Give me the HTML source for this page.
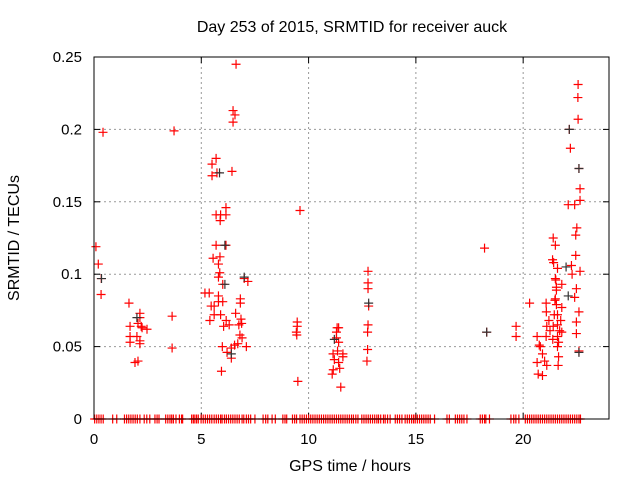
<!DOCTYPE html>
<html><head><meta charset="utf-8"><style>
html,body{margin:0;padding:0;background:#fff}
svg{display:block;font-family:"Liberation Sans",sans-serif}
</style></head><body>
<svg id="chart" width="640" height="480" viewBox="0 0 640 480">
<rect x="0" y="0" width="640" height="480" fill="#fff"/>
<text x="352" y="32" font-size="16" text-anchor="middle">Day 253 of 2015, SRMTID for receiver auck</text>
<text x="350" y="471" font-size="16" text-anchor="middle">GPS time / hours</text>
<text transform="translate(19,238) rotate(-90)" font-size="16" text-anchor="middle">SRMTID / TECUs</text>
<g id="grid"></g>
<g id="ticks"></g>
<g id="redpts"></g>
<g id="blackpts"></g>
<rect x="94" y="57" width="515" height="362" fill="none" stroke="#000" stroke-width="1"/>
</svg>
<script>
const xTicks = [0, 5, 10, 15, 20];
const xTickLabels = ["0", "5", "10", "15", "20"];
const yTicks = [0, 0.05, 0.1, 0.15, 0.2, 0.25];
const yTickLabels = ["0", "0.05", "0.1", "0.15", "0.2", "0.25"];
const redHours = [0.09,0.2,0.34,0.33,0.42,3.73,1.63,1.68,1.68,1.68,1.91,2.05,2.14,2.14,2.05,2.24,2.47,2.0,2.14,2.14,2.2,3.64,3.64,
6.62,6.48,6.57,6.48,5.69,5.5,5.73,5.5,6.43,6.15,5.69,5.9,6.15,5.88,9.6,5.69,6.15,5.55,5.87,5.8,5.86,5.8,7.0,7.17,6.0,5.17,5.37,5.8,5.8,6.0,6.82,6.82,5.46,5.6,5.6,5.9,5.4,6.16,6.04,6.3,6.6,6.85,6.88,6.75,6.8,6.9,6.7,6.55,7.1,5.98,6.2,6.4,6.4,5.94,
9.47,9.47,9.43,9.45,9.5,
11.33,11.3,11.4,11.3,11.4,11.14,11.35,11.6,11.2,11.4,11.45,11.15,11.1,11.5,11.6,
12.77,12.77,12.77,12.8,12.77,12.75,12.75,12.72,
18.2,18.3,19.67,19.67,
20.3,20.65,20.75,20.8,20.9,20.65,20.7,20.9,21.1,21.0,21.07,21.08,21.2,21.1,21.25,21.07,
21.4,21.5,21.37,21.42,21.6,21.5,21.52,21.8,21.55,21.55,21.5,21.48,21.55,21.8,21.45,21.6,21.75,21.4,21.6,21.7,21.6,21.8,21.38,21.65,21.6,21.65,21.63,
22.56,22.55,22.56,22.15,22.2,22.6,22.65,22.65,22.1,22.4,22.5,22.45,22.45,22.25,22.28,22.65,22.48,22.4,22.6,22.48,22.48,22.6];
const redValues = [0.119,0.107,0.097,0.086,0.198,0.199,0.080,0.064,0.057,0.053,0.039,0.040,0.073,0.070,0.066,0.063,0.062,0.057,0.054,0.052,0.064,0.071,0.049,
0.245,0.213,0.210,0.205,0.180,0.176,0.170,0.168,0.171,0.146,0.141,0.141,0.141,0.137,0.144,0.120,0.120,0.111,0.112,0.107,0.101,0.098,0.097,0.095,0.093,0.087,0.087,0.085,0.081,0.081,0.083,0.080,0.078,0.078,0.072,0.072,0.068,0.068,0.064,0.065,0.073,0.069,0.066,0.065,0.058,0.056,0.052,0.051,0.050,0.050,0.046,0.049,0.042,0.033,
0.067,0.064,0.060,0.058,0.026,
0.063,0.060,0.063,0.056,0.053,0.045,0.047,0.045,0.041,0.039,0.035,0.034,0.031,0.022,0.043,
0.102,0.094,0.090,0.078,0.065,0.060,0.048,0.040,
0.118,0.060,0.064,0.057,
0.080,0.057,0.051,0.050,0.045,0.039,0.031,0.030,0.037,0.040,0.080,0.074,0.068,0.064,0.061,0.057,
0.125,0.120,0.110,0.108,0.104,0.097,0.096,0.093,0.091,0.089,0.083,0.082,0.079,0.077,0.072,0.072,0.068,0.064,0.065,0.061,0.057,0.060,0.055,0.053,0.050,0.043,0.037,
0.231,0.222,0.207,0.200,0.187,0.173,0.159,0.151,0.148,0.148,0.132,0.127,0.113,0.106,0.100,0.102,0.090,0.084,0.074,0.067,0.059,0.047];
const blackHours = [0.35,5.85,6.1,6.4,11.2,12.8,18.3,22.15,22.6,22.0,22.1,22.6,7.0,2.0,6.1];
const blackValues = [0.097,0.170,0.120,0.045,0.055,0.080,0.060,0.200,0.173,0.105,0.085,0.046,0.098,0.070,0.093];
const zeroHours = [0.03,0.13,0.23,0.33,0.43,0.87,1.06,1.42,1.52,1.62,1.72,1.82,1.92,2.02,2.14,2.34,2.46,2.6,2.84,2.94,3.03,3.34,3.44,3.54,3.62,3.7,3.82,3.98,4.08,4.13,4.55,4.63,4.7,4.78,4.86,
4.99,5.09,5.19,5.29,5.39,5.49,5.6,5.7,5.8,5.9,5.97,6.08,6.17,6.27,6.37,6.47,6.57,6.67,6.77,6.9,6.98,7.1,7.2,7.3,7.5,7.88,8.0,8.1,8.3,8.45,8.8,8.9,8.98,9.25,9.35,9.44,
9.6,9.7,9.8,9.9,10.0,10.1,10.2,10.3,10.4,10.5,10.6,10.7,10.8,10.9,11.0,11.1,11.2,11.3,11.4,11.5,11.6,11.7,11.8,11.9,12.0,12.09,12.2,12.3,12.48,12.58,12.68,12.78,12.88,12.98,13.08,13.18,13.26,13.36,13.49,13.57,13.68,13.8,
14.04,14.14,14.24,14.35,14.5,14.6,14.7,14.8,14.89,14.97,15.07,15.17,15.27,15.37,15.47,15.57,15.67,15.87,16.45,16.56,16.84,16.94,17.04,17.14,17.24,17.38,
18.0,18.1,18.2,18.26,18.43,19.43,19.56,19.66,19.8,
20.1,20.2,20.3,20.4,20.5,20.6,20.7,20.8,20.9,21.0,21.1,21.2,21.3,21.4,21.5,21.6,21.7,21.8,21.9,22.0,22.1,22.2,22.3,22.4,22.5,22.6,22.67];

const NS = "http://www.w3.org/2000/svg";
const X0 = 94, X1 = 609, Y0 = 419, Y1 = 57;
function xScale(h){ return X0 + h * (X1 - X0) / 24; }
function yScale(v){ return Y0 - v * (Y0 - Y1) / 0.25; }

const grid = document.getElementById('grid');
const ticks = document.getElementById('ticks');
const svg = document.getElementById('chart');
function mk(tag, attrs, parent){ const e = document.createElementNS(NS, tag); for (const k in attrs) e.setAttribute(k, attrs[k]); parent.appendChild(e); return e; }

xTicks.forEach((t, i) => {
  const x = xScale(t);
  if (t > 0) {
    const g = mk('line', {x1:x, y1:Y1, x2:x, y2:Y0, stroke:'#999', 'stroke-dasharray':'2,3'}, grid);
    
    
  }
  mk('line', {x1:x, y1:Y0, x2:x, y2:Y0-6, stroke:'#000'}, ticks);
  mk('line', {x1:x, y1:Y1, x2:x, y2:Y1+6, stroke:'#000'}, ticks);
  const lab = mk('text', {x:x, y:444, 'font-size':15, 'text-anchor':'middle'}, svg);
  lab.textContent = xTickLabels[i];
  
  
});
yTicks.forEach((t, i) => {
  const y = yScale(t);
  if (t > 0 && t < 0.25) {
    const g = mk('line', {x1:X0, y1:y, x2:X1, y2:y, stroke:'#999', 'stroke-dasharray':'2,3'}, grid);
    
    
  }
  mk('line', {x1:X0, y1:y, x2:X0+6, y2:y, stroke:'#000'}, ticks);
  mk('line', {x1:X1, y1:y, x2:X1-6, y2:y, stroke:'#000'}, ticks);
  const lab = mk('text', {x:82, y:y+5, 'font-size':15, 'text-anchor':'end'}, svg);
  lab.textContent = yTickLabels[i];
  
  
});

function cross(parent, h, v, color){
  const x = xScale(h), y = yScale(v);
  const p = mk('path', {d:`M${x-4.5},${y}H${x+4.5}M${x},${y-4.5}V${y+4.5}`, stroke:color, 'stroke-width':1.2, fill:'none'}, parent);
  
  
}
const red = document.getElementById('redpts');
const black = document.getElementById('blackpts');
blackHours.forEach((h, i) => cross(black, h, blackValues[i], '#333'));
redHours.forEach((h, i) => cross(red, h, redValues[i], '#f00'));
zeroHours.forEach(h => cross(red, h, 0, '#f00'));
svg.appendChild(black);
</script>
</body></html>
